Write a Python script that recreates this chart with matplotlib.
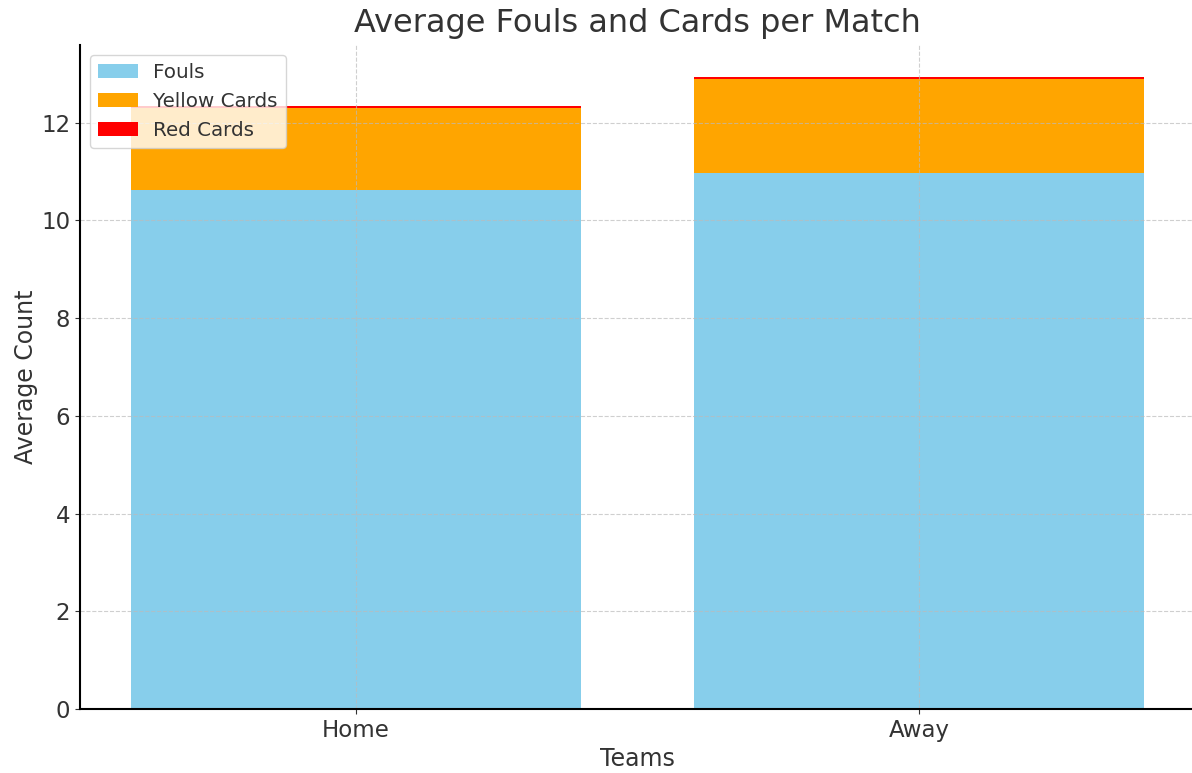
import matplotlib.pyplot as plt

# Data
teams = ['Home', 'Away']
fouls = [10.61, 10.96]
yellow_cards = [1.68, 1.94]
red_cards = [0.05, 0.04]

plt.rcParams.update({
    "font.family": "DejaVu Sans",
    "text.color": "#333333",
    "axes.labelcolor": "#333333",
    "xtick.color": "#333333",
    "ytick.color": "#333333",
})

fig = plt.figure(figsize=(11.92, 7.73), dpi=100)
ax = fig.add_axes([0.0671, 0.0828, 0.9354, 0.859])

x = range(len(teams))
base2 = [f + y for f, y in zip(fouls, yellow_cards)]
ax.bar(x, fouls, width=0.8, color='skyblue', label='Fouls')
ax.bar(x, yellow_cards, width=0.8, bottom=fouls, color='orange', label='Yellow Cards')
ax.bar(x, red_cards, width=0.8, bottom=base2, color='red', label='Red Cards')

ax.set_xticks(list(x))
ax.set_xticklabels(teams, fontsize=16.5)
ax.tick_params(axis='y', labelsize=16.5)
ax.set_xlabel('Teams', fontsize=17)
ax.set_ylabel('Average Count', fontsize=17, labelpad=2)
ax.set_title('Average Fouls and Cards per Match', fontsize=23, pad=9)

ax.grid(True, linestyle='--', color='#bbbbbb', alpha=0.7)
ax.spines['top'].set_visible(False)
ax.spines['right'].set_visible(False)
ax.spines['left'].set_linewidth(1.5)
ax.spines['bottom'].set_linewidth(1.5)
ax.legend(loc='upper left', fontsize=14.3)

plt.savefig("out.png", dpi=100, facecolor="white")
